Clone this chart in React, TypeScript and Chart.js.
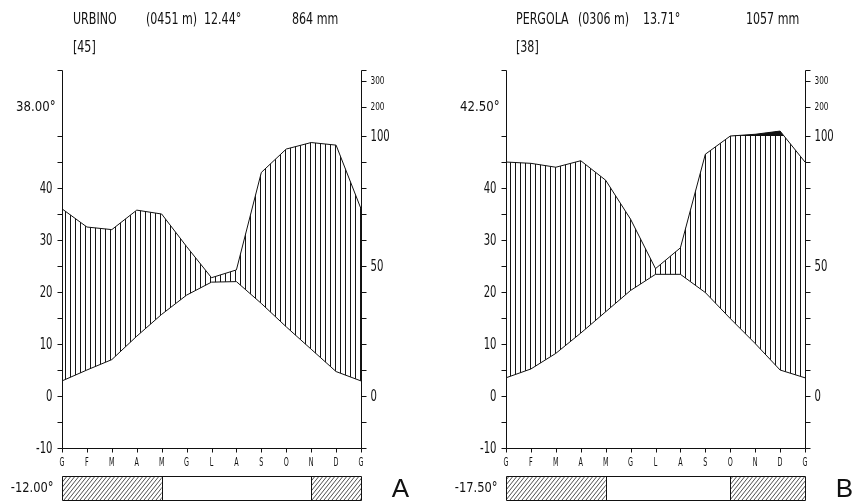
import React, { useEffect, useRef } from 'react';
import { Chart, registerables } from 'chart.js';

Chart.register(...registerables);

// ---------------- data ----------------
const MONTHS = ['G', 'F', 'M', 'A', 'M', 'G', 'L', 'A', 'S', 'O', 'N', 'D', 'G'];

const URBINO_TEMP = [2.9, 5.0, 7.0, 11.5, 15.7, 19.4, 21.9, 22.0, 17.8, 13.3, 9.0, 4.7, 2.9];
const URBINO_PREC = [72, 65, 64, 71.5, 70, 57.5, 45.5, 48.5, 86, 95, 97.5, 96.5, 72];
const URBINO_FROST = [1, 1, 1, 1, 0, 0, 0, 0, 0, 0, 1, 1];

const PERGOLA_TEMP = [3.5, 5.2, 8.2, 12.1, 16.2, 20.3, 23.4, 23.4, 19.9, 14.9, 10.1, 5.0, 3.5];
const PERGOLA_PREC = [90, 89.5, 88, 90.5, 83, 68, 49, 57, 93, 100, 106, 117, 90];
const PERGOLA_FROST = [1, 1, 1, 1, 0, 0, 0, 0, 0, 1, 1, 1];

const TEMP_LABELS = [-10, 0, 10, 20, 30, 40];
const PREC_LABELS = [0, 50, 100, 200, 300];

const URBINO_HEAD = ['URBINO', '(0451 m)', '12.44°', '864 mm', '[45]', '38.00°', '-12.00°', 'A'];
const PERGOLA_HEAD = ['PERGOLA', '(0306 m)', '13.71°', '1057 mm', '[38]', '42.50°', '-17.50°', 'B'];

// ---------------- layout ----------------
const FONT = "'DejaVu Sans Condensed', 'Liberation Sans Narrow', 'Liberation Sans', sans-serif";
const Y_MIN = -10;
const Y_MAX = 62.7;

// precipitation (mm) -> temperature-equivalent units (2 mm = 1 °C, compressed above 100 mm)
function precEq(mm: number): number {
  if (mm <= 100) return mm / 2;
  if (mm <= 200) return 50 + (mm - 100) * 0.056;
  return 55.6 + (mm - 200) * 0.05;
}

type Layout = {
  padLeft: number;
  padRight: number;
  headX: number[];
};

const LAYOUT_A: Layout = { padLeft: 62, padRight: 69, headX: [73, 146, 204, 292, 73] };
const LAYOUT_B: Layout = { padLeft: 76, padRight: 50, headX: [86, 148, 213, 316, 86] };

function drawS(
  ctx: CanvasRenderingContext2D,
  text: string,
  x: number,
  y: number,
  size: number,
  sx: number,
  align: CanvasTextAlign,
  family: string = FONT
) {
  ctx.save();
  ctx.font = `${size}px ${family}`;
  ctx.textAlign = align;
  ctx.textBaseline = 'middle';
  ctx.fillStyle = '#111';
  ctx.translate(x, y);
  ctx.scale(sx, 1);
  ctx.fillText(text, 0, 0);
  ctx.restore();
}

function decorPlugin(head: string[], frost: number[], lay: Layout, diag: CanvasPattern | null) {
  return {
    id: 'decor',
    afterDraw(chart: any) {
      const ctx: CanvasRenderingContext2D = chart.ctx;
      const { left, right, top, bottom } = chart.chartArea;
      const ys = chart.scales.y;
      const xs = chart.scales.x;
      const L = Math.round(left) + 0.5;
      const R = Math.round(right) + 0.5;
      const T = Math.round(top) + 0.5;
      const B = Math.round(bottom) + 0.5;
      ctx.save();
      ctx.strokeStyle = '#111';
      ctx.lineWidth = 1;

      // left axis
      ctx.beginPath();
      ctx.moveTo(L, T);
      ctx.lineTo(L, B);
      ctx.moveTo(L - 5, T);
      ctx.lineTo(L, T);
      for (let v = -10; v <= 50; v += 5) {
        const y = Math.round(ys.getPixelForValue(v)) + 0.5;
        ctx.moveTo(L - 5, y);
        ctx.lineTo(L, y);
      }
      // right axis
      ctx.moveTo(R, T);
      ctx.lineTo(R, B);
      ctx.moveTo(R, T);
      ctx.lineTo(R + 5, T);
      for (let v = -10; v <= 50; v += 5) {
        const y = Math.round(ys.getPixelForValue(v)) + 0.5;
        ctx.moveTo(R, y);
        ctx.lineTo(R + 5, y);
      }
      [200, 300].forEach((mm) => {
        const y = Math.round(ys.getPixelForValue(precEq(mm))) + 0.5;
        ctx.moveTo(R, y);
        ctx.lineTo(R + 5, y);
      });
      // bottom axis
      ctx.moveTo(L, B);
      ctx.lineTo(R, B);
      for (let i = 0; i < MONTHS.length; i++) {
        const x = Math.round(xs.getPixelForValue(i)) + 0.5;
        ctx.moveTo(x, B);
        ctx.lineTo(x, B + 4);
      }
      ctx.stroke();

      // axis labels
      TEMP_LABELS.forEach((v) => {
        drawS(ctx, String(v), L - 10, ys.getPixelForValue(v) + 0.5, 16, 0.7, 'right');
      });
      PREC_LABELS.forEach((mm) => {
        const small = mm > 100;
        drawS(ctx, String(mm), R + 9, ys.getPixelForValue(precEq(mm)) + 0.5, small ? 11 : 16, small ? 0.74 : 0.7, 'left');
      });
      MONTHS.forEach((m, i) => {
        drawS(ctx, m, xs.getPixelForValue(i), B + 15, 11.5, 0.62, 'center');
      });

      // header
      for (let k = 0; k < 4; k++) drawS(ctx, head[k], lay.headX[k], 20, 15, 0.82, 'left');
      drawS(ctx, head[4], lay.headX[4], 48, 15, 0.82, 'left');
      drawS(ctx, head[5], L - 7, 107, 14.5, 0.9, 'right');

      // frost bar
      const by0 = 476.5;
      const by1 = 500.5;
      for (let i = 0; i < frost.length; i++) {
        if (!frost[i]) continue;
        const x0 = xs.getPixelForValue(i);
        const x1 = xs.getPixelForValue(i + 1);
        ctx.fillStyle = diag || '#999';
        ctx.fillRect(x0, by0, x1 - x0, by1 - by0);
      }
      ctx.beginPath();
      ctx.rect(L, by0, R - L, by1 - by0);
      for (let i = 1; i < frost.length; i++) {
        if (frost[i] !== frost[i - 1]) {
          const x = Math.round(xs.getPixelForValue(i)) + 0.5;
          ctx.moveTo(x, by0);
          ctx.lineTo(x, by1);
        }
      }
      ctx.stroke();
      drawS(ctx, head[6], L - 9, 488, 14.5, 0.88, 'right');
      drawS(ctx, head[7], R + 39, 490, 26, 1, 'center', "'Liberation Sans', Arial, sans-serif");
      ctx.restore();
    },
  };
}

function buildChart(canvas: HTMLCanvasElement, temp: number[], prec: number[], frost: number[], head: string[], lay: Layout) {
  const ctx = canvas.getContext('2d')!;
  // vertical hatch tile
  const vt = document.createElement('canvas');
  vt.width = 5;
  vt.height = 4;
  const vg = vt.getContext('2d')!;
  vg.fillStyle = '#151515';
  vg.fillRect(0, 0, 1, 4);
  const vpat = ctx.createPattern(vt, 'repeat');
  // diagonal hatch tile
  const dt = document.createElement('canvas');
  const tw = 4;
  const th = 5;
  dt.width = tw;
  dt.height = th;
  const dg = dt.getContext('2d')!;
  dg.strokeStyle = '#222';
  dg.lineWidth = 0.8;
  dg.beginPath();
  dg.moveTo(0, th);
  dg.lineTo(tw, 0);
  dg.moveTo(-tw, th);
  dg.lineTo(0, 0);
  dg.moveTo(tw, th);
  dg.lineTo(2 * tw, 0);
  dg.stroke();
  const dpat = ctx.createPattern(dt, 'repeat');

  const tempPts = temp.map((v, i) => ({ x: i, y: v }));
  const precPts = prec.map((v, i) => ({ x: i, y: precEq(v) }));

  return new Chart(ctx, {
    type: 'line',
    data: {
      datasets: [
        {
          data: tempPts,
          borderColor: '#111',
          borderWidth: 1,
          pointRadius: 0,
          fill: false,
          tension: 0,
          order: 2,
        },
        {
          data: precPts,
          borderColor: '#111',
          borderWidth: 1,
          pointRadius: 0,
          fill: 0,
          backgroundColor: vpat as any,
          tension: 0,
          order: 1,
        },
        {
          data: precPts,
          borderColor: 'rgba(0,0,0,0)',
          borderWidth: 0,
          pointRadius: 0,
          fill: { target: { value: 50 }, above: '#111', below: 'rgba(0,0,0,0)' },
          tension: 0,
          order: 0,
        },
      ],
    } as any,
    options: {
      responsive: false,
      animation: false,
      devicePixelRatio: 1,
      events: [],
      layout: { padding: { left: lay.padLeft, right: lay.padRight, top: 70, bottom: 54 } },
      plugins: { legend: { display: false }, tooltip: { enabled: false }, title: { display: false } },
      scales: {
        x: { type: 'linear', min: 0, max: 12, display: false },
        y: { type: 'linear', min: Y_MIN, max: Y_MAX, display: false },
      },
    } as any,
    plugins: [decorPlugin(head, frost, lay, dpat)],
  });
}

export default function App() {
  const aRef = useRef<HTMLCanvasElement>(null);
  const bRef = useRef<HTMLCanvasElement>(null);
  useEffect(() => {
    const c1 = buildChart(aRef.current!, URBINO_TEMP, URBINO_PREC, URBINO_FROST, URBINO_HEAD, LAYOUT_A);
    const c2 = buildChart(bRef.current!, PERGOLA_TEMP, PERGOLA_PREC, PERGOLA_FROST, PERGOLA_HEAD, LAYOUT_B);
    return () => {
      c1.destroy();
      c2.destroy();
    };
  }, []);
  return (
    <div style={{ position: 'absolute', left: 0, top: 0, width: 855, height: 502, background: '#fff', overflow: 'hidden' }}>
      <canvas ref={aRef} width={430} height={502} style={{ position: 'absolute', left: 0, top: 0, width: 430, height: 502 }} />
      <canvas ref={bRef} width={425} height={502} style={{ position: 'absolute', left: 430, top: 0, width: 425, height: 502 }} />
    </div>
  );
}
